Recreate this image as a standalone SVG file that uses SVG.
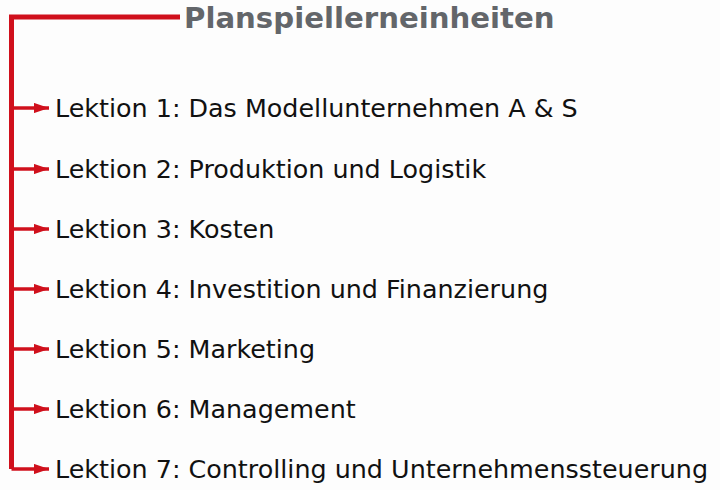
<svg xmlns="http://www.w3.org/2000/svg" width="720" height="490" viewBox="0 0 720 490">
<defs>
<marker id="ah" viewBox="0 0 10 10" refX="10" refY="5" markerWidth="4.4" markerHeight="3" markerUnits="strokeWidth" orient="auto" preserveAspectRatio="none">
<path d="M0,0 L10,5 L0,10 z" fill="#d0101c"/>
</marker>
<style>
.ln{stroke:#d0101c;stroke-width:5;fill:none}
.ar{stroke:#d0101c;stroke-width:3.5;fill:none;marker-end:url(#ah)}
.t{font-family:"DejaVu Sans",Verdana,sans-serif;font-size:25.4px;fill:#111}
.h{font-family:"DejaVu Sans",Verdana,sans-serif;font-size:29.2px;font-weight:bold;fill:#63666a}
</style>
</defs>
<rect width="720" height="490" fill="#fdfdfd"/>
<g id="connectors">
<path class="ln" d="M180,17 H11.5 V469"/>
<path class="ar" d="M11.5,108 H49"/>
<path class="ar" d="M11.5,169 H49"/>
<path class="ar" d="M11.5,229 H49"/>
<path class="ar" d="M11.5,289 H49"/>
<path class="ar" d="M11.5,349 H49"/>
<path class="ar" d="M11.5,409 H49"/>
<path class="ar" d="M11.5,469 H49"/>
</g>
<g id="title"><text class="h" x="184" y="28">Planspiellerneinheiten</text></g>
<g id="l1"><text class="t" x="55" y="117">Lektion 1: Das Modellunternehmen A &amp; S</text></g>
<g id="l2"><text class="t" x="55" y="178">Lektion 2: Produktion und Logistik</text></g>
<g id="l3"><text class="t" x="55" y="238">Lektion 3: Kosten</text></g>
<g id="l4"><text class="t" x="55" y="298">Lektion 4: Investition und Finanzierung</text></g>
<g id="l5"><text class="t" x="55" y="358">Lektion 5: Marketing</text></g>
<g id="l6"><text class="t" x="55" y="418">Lektion 6: Management</text></g>
<g id="l7"><text class="t" x="55" y="478">Lektion 7: Controlling und Unternehmenssteuerung</text></g>
</svg>
